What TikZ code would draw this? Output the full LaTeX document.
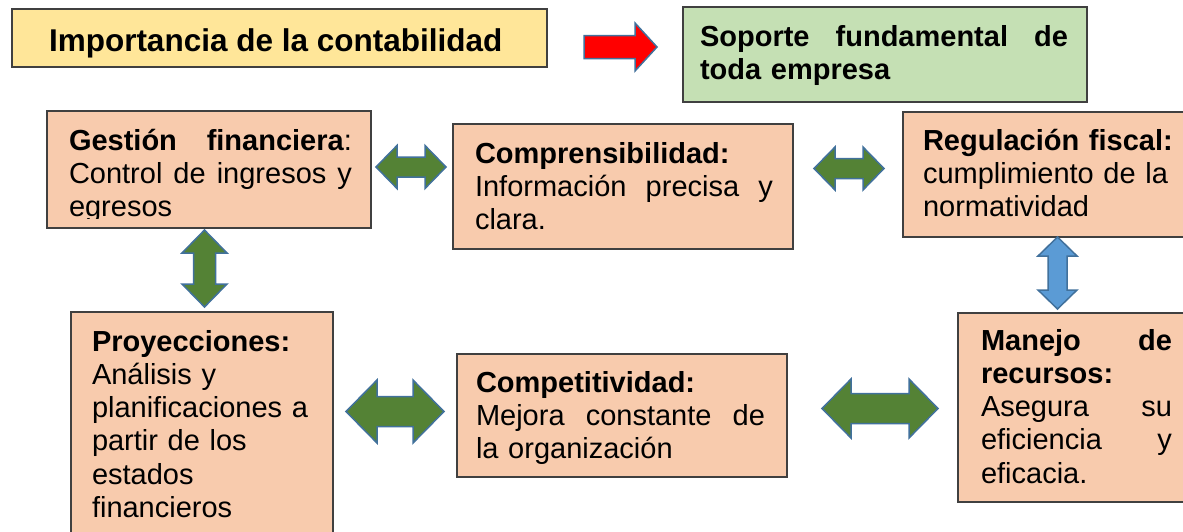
\documentclass[tikz,border=0pt]{standalone}
\usepackage{fontspec}
\setmainfont{Liberation Sans}
\definecolor{ytitle}{HTML}{FFE699}
\definecolor{gbox}{HTML}{C5E0B4}
\definecolor{obox}{HTML}{F8CBAD}
\definecolor{boxline}{HTML}{404040}
\definecolor{agreen}{HTML}{548235}
\definecolor{ablue}{HTML}{5B9BD5}
\definecolor{aborder}{HTML}{41719C}
\definecolor{ared}{HTML}{FF0000}
\newcommand\bodyfont{\fontsize{29}{33.3}\selectfont}
\newcommand\titlefont{\fontsize{31.5}{38}\selectfont}
\newcommand\jl[2]{\leavevmode\hbox to #1pt{\spaceskip=0.278em plus 1fill\relax #2}}
% horizontal double block arrow: x1 x2 yc H h L style
\newcommand\hdarrow[7]{\draw[#7] (#1,#3) -- (#1+#6,#3-#4) -- (#1+#6,#3-#5) -- (#2-#6,#3-#5) -- (#2-#6,#3-#4) -- (#2,#3) -- (#2-#6,#3+#4) -- (#2-#6,#3+#5) -- (#1+#6,#3+#5) -- (#1+#6,#3+#4) -- cycle;}
% vertical double block arrow: y1 y2 xc H h L style
\newcommand\vdarrow[7]{\draw[#7] (#3,#1) -- (#3+#4,#1+#6) -- (#3+#5,#1+#6) -- (#3+#5,#2-#6) -- (#3+#4,#2-#6) -- (#3,#2) -- (#3-#4,#2-#6) -- (#3-#5,#2-#6) -- (#3-#5,#1+#6) -- (#3-#4,#1+#6) -- cycle;}
\begin{document}
\begin{tikzpicture}[x=1pt,y=-1pt,
  box/.style={draw=boxline, line width=1.4pt, inner sep=0pt, outer sep=0pt, anchor=north west},
  txt/.style={anchor=north west, inner sep=0pt, outer sep=0pt, align=left, text=black, font=\bodyfont, yshift=23.31pt},
  ttl/.style={anchor=north west, inner sep=0pt, outer sep=0pt, align=left, text=black, font=\titlefont, yshift=26.6pt},
  garrow/.style={fill=agreen, draw=aborder, line width=1.5pt, line join=miter},
  barrow/.style={fill=ablue, draw=aborder, line width=1.5pt, line join=miter},
  rarrow/.style={fill=ared, draw=aborder, line width=1.5pt, line join=miter}]
\clip (0,0) rectangle (1183,531);
\fill[white] (0,0) rectangle (1183,531);

% boxes
\node[box, fill=ytitle, minimum width=535pt, minimum height=58pt] (title) at (12,9) {};
\node[box, fill=gbox, minimum width=404pt, minimum height=95pt] (soporte) at (683,7) {};
\node[box, fill=obox, minimum width=324pt, minimum height=117pt] (gestion) at (47,111) {};
\node[box, fill=obox, minimum width=340pt, minimum height=125pt] (compr) at (453,124) {};
\node[box, fill=obox, minimum width=290pt, minimum height=125pt] (regul) at (903,112) {};
\node[box, fill=obox, minimum width=262pt, minimum height=230pt] (proy) at (71,312) {};
\node[box, fill=obox, minimum width=330pt, minimum height=123pt] (compet) at (457,354) {};
\node[box, fill=obox, minimum width=235pt, minimum height=189pt] (manejo) at (958,313) {};

% texts
\node[ttl] (tTitle) at (49,51) {\strut\textbf{Importancia de la contabilidad}};
\node[txt, text width=368pt] (tSoporte) at (700,46.5)
  {\strut\jl{368}{\bfseries Soporte fundamental de}\\\textbf{toda empresa}};
\begin{scope}
\clip (47,111) rectangle (371,218);
\node[txt, text width=283pt] (tGestion) at (69,150)
  {\strut\jl{283}{\textbf{Gestión financiera}:}\\\jl{283}{Control de ingresos y}\\egresos};
\end{scope}
\node[txt, text width=298pt] (tCompr) at (475,163)
  {\strut\textbf{Comprensibilidad:}\\\jl{298}{Información precisa y}\\clara.};
\node[txt, text width=255pt] (tRegul) at (923,150)
  {\strut\textbf{Regulación fiscal:}\\cumplimiento de la\\normatividad};
\node[txt, text width=240pt] (tProy) at (92,351)
  {\strut\textbf{Proyecciones:}\\Análisis y\\planificaciones a\\partir de los\\estados\\financieros};
\node[txt, text width=289pt] (tCompet) at (476,392)
  {\strut\textbf{Competitividad:}\\\jl{289}{Mejora constante de}\\la organización};
\node[txt, text width=191pt] (tManejo) at (981,350)
  {\strut\jl{191}{\bfseries Manejo de}\\\textbf{recursos:}\\\jl{191}{Asegura su}\\\jl{191}{eficiencia y}\\eficacia.};

% arrows
\draw[rarrow] (584,35.5) -- (635,35.5) -- (635,23) -- (657,47) -- (635,71) -- (635,58.5) -- (584,58.5) -- cycle;
\hdarrow{376}{446}{167}{21.5}{10}{21}{garrow}
\hdarrow{814}{884}{168.5}{21.5}{10}{21}{garrow}
\vdarrow{230}{307}{204.5}{22.5}{11}{23}{garrow}
\vdarrow{237}{309}{1057.5}{19.5}{9.5}{19}{barrow}
\hdarrow{346}{444}{411.5}{31.5}{15}{31}{garrow}
\hdarrow{822}{938}{408.5}{29.5}{15}{29}{garrow}
\end{tikzpicture}
\end{document}
